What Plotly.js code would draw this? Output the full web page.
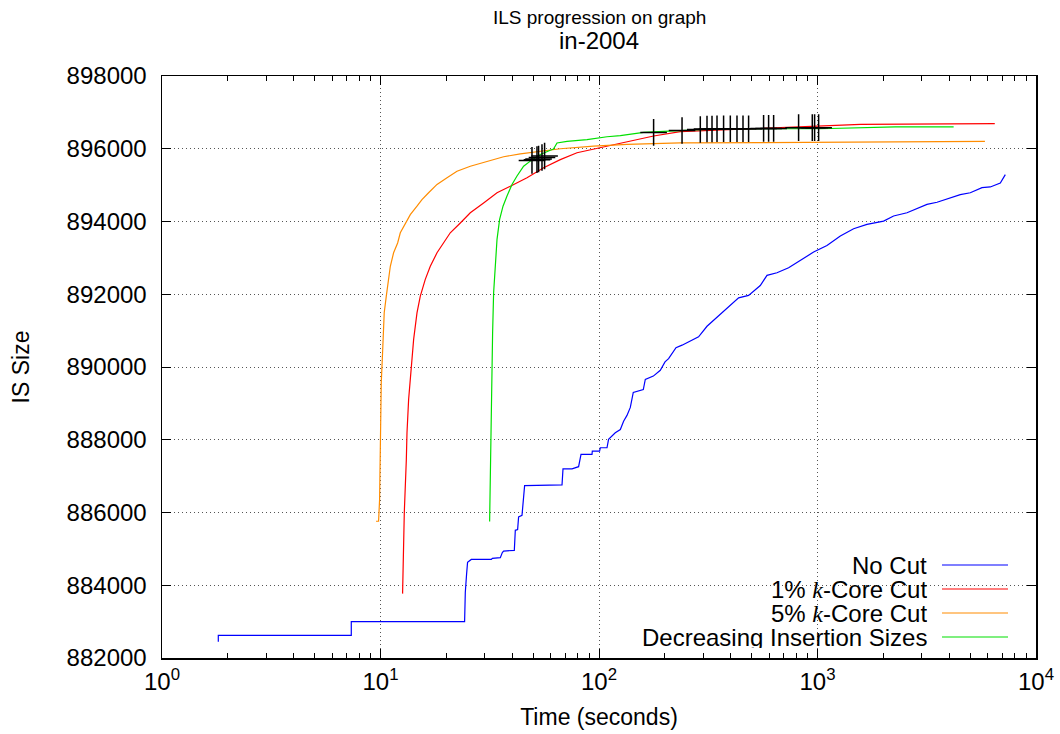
<!DOCTYPE html>
<html>
<head>
<meta charset="utf-8">
<script src="https://cdn.plot.ly/plotly-3.0.1.min.js"></script>
<style>html,body{margin:0;padding:0;background:#fff;}#chart{width:1060px;height:734px;}</style>
</head>
<body>
<div id="chart"></div>
<script>
// ---- data ----
const seriesNames = ['No Cut', '1% <span style="font-family:\'Liberation Serif\';font-style:italic">k</span>-Core Cut', '5% <span style="font-family:\'Liberation Serif\';font-style:italic">k</span>-Core Cut', 'Decreasing Insertion Sizes'];

const noCutTime = [1.81,1.81,7.35,7.35,24.26,24.44,24.77,25.03,26.03,32.15,32.49,35.09,35.35,36.10,36.60,40.97,41.40,42.42,42.86,44.42,45.18,45.66,67.73,68.43,75.23,80.66,82.73,92.9,93.2,100.6,101.4,108.8,110.6,118.7,125.2,129.6,134.3,139.1,143.5,159.5,162.9,177.3,190.8,200.5,208.2,225.1,239.9,261.7,285.6,312.1,352.7,399,435.5,483.8,547.2,587.3,652.5,737.5,863.9,960,1105,1272,1463,1684,2007,2230,2568,2853,3170,3524,4053,4503,5004,5660,6178,6865,7237];
const noCutSize = [882450,882620,882620,883000,883000,883800,884300,884630,884710,884710,884740,884740,884760,884900,884940,884960,885510,885530,885880,885920,886630,886740,886760,887200,887200,887260,887600,887600,887690,887690,887780,887780,888010,888190,888280,888510,888670,888890,889300,889380,889660,889750,889910,890140,890230,890530,890600,890710,890830,891120,891400,891690,891900,891970,892240,892520,892590,892730,892980,893160,893340,893600,893800,893920,894010,894150,894240,894350,894470,894530,894650,894740,894790,894930,894950,895060,895290];

const core1Time = [12.62,12.85,13.13,13.22,13.45,13.79,14.18,14.69,15.21,16.03,16.90,18.14,19.45,20.86,23.19,25.76,29.64,34.14,39.28,46.83,55.79,66.51,79.32,101.4,134.3,177.8,235.6,510,1000,1573,6477];
const core1Size = [883770,886000,887460,888190,889110,890020,890760,891490,891950,892410,892770,893140,893410,893690,893960,894240,894510,894790,894970,895200,895480,895700,895890,896030,896210,896350,896470,896550,896625,896670,896690];

const core5Time = [9.54,9.80,9.906,9.98,10.08,10.22,10.40,10.63,10.89,11.09,11.48,11.98,12.32,12.99,13.69,14.69,15.48,16.60,18.14,20.16,22.39,25.76,30.72,36.6,43.63,53.87,66.5,94.5,134.3,235.6,1573,5838];
const core5Size = [885760,885760,886360,888190,889570,890390,891490,891950,892410,892770,893140,893410,893690,893960,894190,894420,894600,894790,895020,895200,895380,895520,895660,895780,895860,895930,896000,896070,896120,896160,896180,896200];

const disTime = [31.58,31.81,32.15,32.59,32.94,33.53,34.14,35.09,36.37,37.93,39.98,42.14,45.18,48.47,53.87,59.86,61.9,64.24,71.38,88.13,108.8,125.2,160,197.6,252.7,359,1030,1672,2270,4198];
const disSize = [885750,887270,889110,890940,892040,892960,893510,894060,894420,894700,895020,895250,895520,895660,895840,895960,895990,896160,896200,896250,896330,896360,896450,896480,896510,896550,896550,896580,896600,896600];

const insTime = [49.35,52.02,52.91,54.84,56.36,177.8,239.9,290.8,312.1,329.0,346.8,371.7,399,428.1,456.1,483.8,566.6,597.4,629.8,819.4,946.6,970,1012];
const insSize = [895680,895700,895720,895760,895800,896450,896500,896530,896545,896545,896550,896550,896550,896550,896550,896550,896560,896560,896560,896580,896580,896580,896580];

const xTickVals = [1, 10, 100, 1000, 10000];
const xTickText = ['10<sup>0</sup>', '10<sup>1</sup>', '10<sup>2</sup>', '10<sup>3</sup>', '10<sup>4</sup>'];
const xMinorVals = [2,3,4,5,6,7,8,9,20,30,40,50,60,70,80,90,200,300,400,500,600,700,800,900,2000,3000,4000,5000,6000,7000,8000,9000];
const yTickVals = [882000,884000,886000,888000,890000,892000,894000,896000,898000];

const colors = ['#0000ff', '#ff0000', '#ff8c00', '#00e000'];

// ---- traces ----
const lineW = 1.2;
const traces = [
  {x: noCutTime, y: noCutSize, mode: 'lines', line: {color: colors[0], width: lineW}, name: 'No Cut'},
  {x: core1Time, y: core1Size, mode: 'lines', line: {color: colors[1], width: lineW}, name: '1% k-Core Cut'},
  {x: core5Time, y: core5Size, mode: 'lines', line: {color: colors[2], width: lineW}, name: '5% k-Core Cut'},
  {x: disTime, y: disSize, mode: 'lines', line: {color: colors[3], width: lineW}, name: 'Decreasing Insertion Sizes'},
  {x: insTime, y: insSize, mode: 'markers', marker: {symbol: 'cross-thin', size: 19, color: '#000', line: {color: '#000', width: 1.5}}, showlegend: false}
];

// ---- plot geometry (px) ----
const W = 1060, H = 734;
const mL = 162, mR = 24, mT = 76, mB = 76;
const pw = W - mL - mR, ph = H - mT - mB;
const px2x = p => (p - mL) / pw;
const py2y = p => (H - mB - p) / ph;

const shapes = [
  // opaque key box hiding grid (gnuplot style)
  {type: 'rect', xref: 'paper', yref: 'paper', x0: px2x(550), x1: 1, y0: 0, y1: py2y(552), fillcolor: '#fff', line: {width: 0}, layer: 'between'}
];
const annotations = [
  {text: 'ILS progression on graph', xref: 'paper', yref: 'paper', x: 0.5, y: py2y(18), xanchor: 'center', yanchor: 'middle', showarrow: false, font: {size: 19}},
  {text: 'in-2004', xref: 'paper', yref: 'paper', x: 0.5, y: py2y(41), xanchor: 'center', yanchor: 'middle', showarrow: false, font: {size: 24}}
];
const legendRows = [565, 589, 613, 637];
seriesNames.forEach((n, i) => {
  annotations.push({text: n, xref: 'paper', yref: 'paper', x: px2x(928), y: py2y(legendRows[i]), xanchor: 'right', yanchor: 'middle', showarrow: false, font: {size: 24}, height: 22, borderpad: 0, valign: 'middle'});
  shapes.push({type: 'line', xref: 'paper', yref: 'paper', x0: px2x(942), x1: px2x(1008), y0: py2y(legendRows[i]), y1: py2y(legendRows[i]), line: {color: colors[i], width: 1.2}, layer: 'above'});
});

const axisCommon = {
  ticks: 'inside', tickcolor: '#000', tickwidth: 1, ticklen: 9,
  showline: true, linecolor: '#000', linewidth: 1.5, mirror: 'allticks',
  showgrid: true, gridcolor: '#555', gridwidth: 1, griddash: '1px,3px',
  zeroline: false, tickfont: {size: 24, color: '#000'}
};

const layout = {
  width: W, height: H,
  margin: {l: mL, r: mR, t: mT, b: mB, pad: 0},
  paper_bgcolor: '#fff', plot_bgcolor: '#fff',
  showlegend: false,
  font: {family: 'Liberation Sans, Arial, Helvetica, sans-serif', color: '#000', size: 23},
  xaxis: Object.assign({}, axisCommon, {
    type: 'log', range: [0, 4], tickmode: 'array', tickvals: xTickVals, ticktext: xTickText,
    ticklabelstandoff: 2,
    minor: {tickmode: 'array', tickvals: xMinorVals, ticks: 'inside', ticklen: 5, tickwidth: 1, tickcolor: '#000', showgrid: false},
    title: {text: 'Time (seconds)', font: {size: 23}, standoff: 14}
  }),
  yaxis: Object.assign({}, axisCommon, {
    range: [882000, 898000], tickmode: 'array', tickvals: yTickVals, tickformat: 'd',
    ticklabelstandoff: 9,
    title: {text: 'IS Size', font: {size: 23}, standoff: 30}
  }),
  shapes: shapes,
  annotations: annotations
};

Plotly.newPlot('chart', traces, layout, {displayModeBar: false, staticPlot: true});
</script>
</body>
</html>
